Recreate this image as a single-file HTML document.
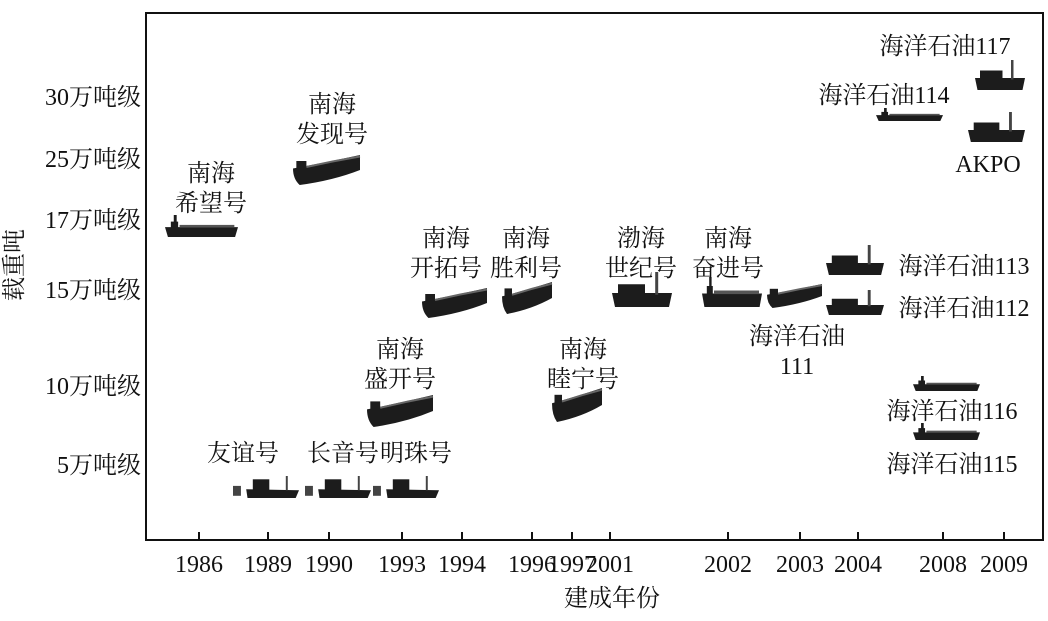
<!DOCTYPE html>
<html><head><meta charset="utf-8"><style>
html,body{margin:0;padding:0;background:#fff;}
svg{display:block;}
text{font-family:"Liberation Serif","Noto Serif CJK SC",serif;fill:#111;}
</style></head><body>
<svg id="c" width="1048" height="621" viewBox="0 0 1048 621">
<rect x="146" y="13" width="897" height="527" fill="none" stroke="#111" stroke-width="2"/>
<g id="axes"></g><g id="ships"></g><g id="labels"></g>
<text x="612" y="606" font-size="24" text-anchor="middle">建成年份</text>
<text x="0" y="0" font-size="24" text-anchor="middle" transform="translate(22,265) rotate(-90)">载重吨</text>
</svg>
<script>
const xTicks=["1986","1989","1990","1993","1994","1996","1997","2001","2002","2003","2004","2008","2009"];
const xTickPos=[199,268,329,402,462,532,572,610,728,800,858,943,1004];
const yTicks=["30万吨级","25万吨级","17万吨级","15万吨级","10万吨级","5万吨级"];
const yTickPos=[96,158,219,289,385,464];
// ships: [type, x0, y0, width, height]
const shipTypes=["tanker","vlcc","vlcc","vlcc","vlcc","vlcc","dredge","dredge","dredge","fpso","tanker","vlcc","fpso","fpso","tanker","fpso","fpso","tanker","tanker"];
const shipBoxes=[[165,215,73,22],[293,155,67,30],[422,288,65,30],[502,282,50,32],[367,395,66,32],[552,388,50,34],[233,476,66,22],[305,476,66,22],[373,476,66,22],[612,272,60,35],[702,277,60,30],[767,284,55,24],[826,245,58,30],[826,290,58,25],[876,108,67,13],[975,60,50,30],[968,112,57,30],[913,376,67,15],[913,423,67,17]];
const labelTexts=[["南海","希望号"],["南海","发现号"],["南海","开拓号"],["南海","胜利号"],["渤海","世纪号"],["南海","奋进号"],["海洋石油","111"],["南海","盛开号"],["南海","睦宁号"],["友谊号"],["长音号"],["明珠号"],["海洋石油117"],["海洋石油114"],["AKPO"],["海洋石油113"],["海洋石油112"],["海洋石油116"],["海洋石油115"]];
const labelAnchors=[[211,181],[332,112],[446,246],[526,246],[641,246],[728,246],[797,344],[400,357],[583,357],[243,461],[343,461],[416,461],[945,54],[884,103],[988,172],[964,274],[964,316],[952,419],[952,472]];
const NS="http://www.w3.org/2000/svg";
function mk(tag,attrs,parent){const e=document.createElementNS(NS,tag);for(const k in attrs)e.setAttribute(k,attrs[k]);parent.appendChild(e);return e;}
const ax=document.getElementById('axes');
xTicks.forEach((t,i)=>{
  const l=mk('line',{x1:xTickPos[i],x2:xTickPos[i],y1:540,y2:532,stroke:'#111','stroke-width':2},ax);
  
  
  const tx=mk('text',{x:xTickPos[i],y:572,'font-size':24,'text-anchor':'middle'},ax);tx.textContent=t;
  
  
});
yTicks.forEach((t,i)=>{
  const tx=mk('text',{x:141,y:yTickPos[i]+9,'font-size':24,'text-anchor':'end'},ax);tx.textContent=t;
  
  
});
const sg=document.getElementById('ships');
shipTypes.forEach((tp,i)=>{
  const [x,y,w,h]=shipBoxes[i];
  const g=mk('g',{},sg);
  
  
  const c='#1c1c1c';
  if(tp==='tanker'){
    mk('path',{d:`M${x} ${y+h*0.55} L${x+w} ${y+h*0.55} L${x+w*0.96} ${y+h} L${x+w*0.04} ${y+h} Z`,fill:c},g);
    mk('rect',{x:x+w*0.08,y:y+h*0.3,width:w*0.1,height:h*0.3,fill:c},g);
    mk('rect',{x:x+w*0.12,y:y,width:w*0.04,height:h*0.35,fill:c},g);
    mk('rect',{x:x+w*0.2,y:y+h*0.45,width:w*0.75,height:h*0.12,fill:'#555'},g);
  }else if(tp==='vlcc'){
    mk('path',{d:`M${x} ${y+h*0.45} Q${x+w*0.5} ${y+h*0.25} ${x+w} ${y} L${x+w} ${y+h*0.5} Q${x+w*0.6} ${y+h*0.85} ${x+w*0.1} ${y+h} Q${x} ${y+h*0.8} ${x} ${y+h*0.45} Z`,fill:c},g);
    mk('rect',{x:x+w*0.05,y:y+h*0.2,width:w*0.15,height:h*0.4,fill:c},g);
    mk('path',{d:`M${x+w*0.2} ${y+h*0.4} Q${x+w*0.6} ${y+h*0.2} ${x+w} ${y+h*0.05}`,stroke:'#666','stroke-width':2,fill:'none'},g);
  }else if(tp==='dredge'){
    mk('path',{d:`M${x+w*0.2} ${y+h*0.6} L${x+w} ${y+h*0.65} L${x+w*0.95} ${y+h} L${x+w*0.22} ${y+h} Z`,fill:c},g);
    mk('rect',{x:x+w*0.3,y:y+h*0.15,width:w*0.25,height:h*0.5,fill:c},g);
    mk('rect',{x:x,y:y+h*0.45,width:w*0.12,height:h*0.45,fill:'#444'},g);
    mk('rect',{x:x+w*0.8,y:y,width:w*0.03,height:h*0.65,fill:'#444'},g);
  }else{
    mk('path',{d:`M${x} ${y+h*0.6} L${x+w} ${y+h*0.6} L${x+w*0.95} ${y+h} L${x+w*0.05} ${y+h} Z`,fill:c},g);
    mk('rect',{x:x+w*0.1,y:y+h*0.35,width:w*0.45,height:h*0.3,fill:c},g);
    mk('rect',{x:x+w*0.72,y:y,width:w*0.05,height:h*0.65,fill:'#444'},g);
  }
});
const lg=document.getElementById('labels');
labelTexts.forEach((lines,i)=>{
  const [cx,cy]=labelAnchors[i];
  lines.forEach((s,j)=>{
    const t=mk('text',{x:cx,y:cy+j*30,'font-size':24,'text-anchor':'middle'},lg);t.textContent=s;
    
    
  });
});
</script>
</body></html>
